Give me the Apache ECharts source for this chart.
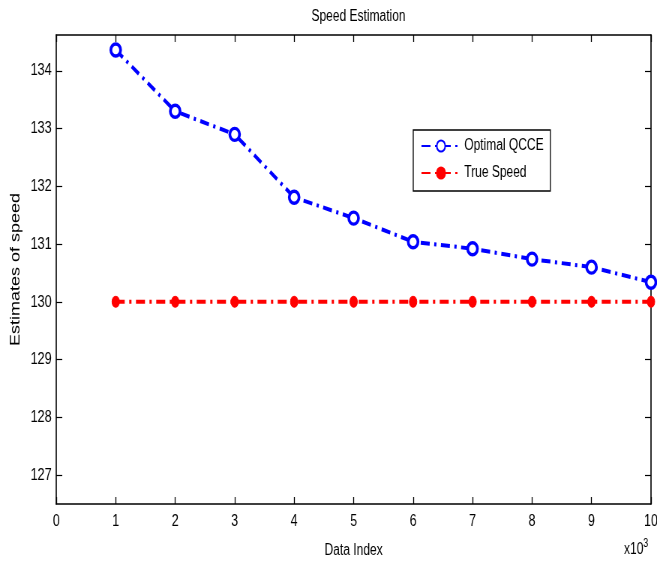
<!DOCTYPE html>
<html><head><meta charset="utf-8">
<script src="https://cdn.jsdelivr.net/npm/echarts@6/dist/echarts.min.js"></script>
<style>html,body{margin:0;padding:0;background:#fff;overflow:hidden}
#wrap{width:657px;height:562px;overflow:hidden}
#c{width:880px;height:562px;transform:scaleX(0.75);transform-origin:0 0}</style>
</head><body><div id="wrap"><div id="c"></div></div>
<script>
const xIndex = [1,2,3,4,5,6,7,8,9,10];
const optimalQCCE = [134.36,133.30,132.90,131.81,131.45,131.04,130.92,130.74,130.60,130.34];
const trueSpeed = [130,130,130,130,130,130,130,130,130,130];
const xTicks = [0,1,2,3,4,5,6,7,8,9,10];
const yTicks = [127,128,129,130,131,132,133,134];

const FONT = "'Liberation Sans',Arial,Helvetica,sans-serif";
const chart = echarts.init(document.getElementById('c'), null, {renderer:'canvas'});
const lineAx = {show:true,onZero:false,lineStyle:{color:'#000',width:1.6}};
const tickAx = {show:true,inside:true,length:8,lineStyle:{color:'#000',width:1.2}};
const tickAxX = {show:true,inside:true,length:7,lineStyle:{color:'#000',width:1.3},customValues:xTicks};
chart.setOption({
  animation:false,
  backgroundColor:'#fff',
  title:{text:'Speed Estimation',left:473,top:4,textAlign:'center',
    textStyle:{fontFamily:FONT,fontSize:16,fontWeight:'normal',color:'#000'}},
  grid:{left:75,right:12,top:35,bottom:58,containLabel:false,outerBoundsMode:'none'},
  legend:{
    orient:'vertical',left:551,top:130,
    data:['Optimal QCCE','True Speed'],
    borderColor:'#000',borderWidth:1.3,padding:[8,9,10,10],
    itemWidth:52,itemHeight:14,itemGap:11,
    textStyle:{fontFamily:FONT,fontSize:16,color:'#000'}
  },
  xAxis:[
    {type:'value',min:0,max:10,interval:1,position:'bottom',
      name:'Data Index',nameLocation:'middle',nameGap:39,
      nameTextStyle:{fontFamily:FONT,fontSize:16,color:'#000'},
      axisLine:lineAx,axisTick:tickAxX,splitLine:{show:false},
      axisLabel:{fontFamily:FONT,fontSize:16.5,color:'#000',margin:9,customValues:xTicks}},
    {type:'value',min:0,max:10,interval:1,position:'top',
      axisLine:lineAx,axisTick:tickAxX,splitLine:{show:false},axisLabel:{show:false}}
  ],
  yAxis:[
    {type:'value',min:126.5,max:134.62,position:'left',
      name:'Estimates of speed',nameLocation:'middle',nameGap:42,
      nameTextStyle:{fontFamily:FONT,fontSize:18,color:'#000'},
      axisLine:lineAx,axisTick:Object.assign({customValues:yTicks},tickAx),splitLine:{show:false},
      axisLabel:{fontFamily:FONT,fontSize:17,color:'#000',margin:6,customValues:yTicks}},
    {type:'value',min:126.5,max:134.62,position:'right',
      axisLine:lineAx,axisTick:Object.assign({customValues:yTicks},tickAx),splitLine:{show:false},
      axisLabel:{show:false}}
  ],
  graphic:[{type:'text',left:832,top:538,style:{
    text:'x10{s|3}',fontFamily:FONT,fontSize:16,fill:'#000',
    rich:{s:{fontSize:12,verticalAlign:'top',padding:[0,0,12,0],fontFamily:FONT}}}}],
  series:[
    {name:'Optimal QCCE',type:'line',data:xIndex.map((x,i)=>[x,optimalQCCE[i]]),
      color:'#0000ff',symbol:'circle',symbolSize:[13,12],
      itemStyle:{color:'#fff',borderColor:'#0000ff',borderWidth:3.5},
      lineStyle:{color:'#0000ff',width:4,type:[12,6,3,6]}},
    {name:'True Speed',type:'line',data:xIndex.map((x,i)=>[x,trueSpeed[i]]),
      color:'#ff0000',symbol:'circle',symbolSize:[10,11],
      itemStyle:{color:'#ff0000',borderColor:'#ff0000',borderWidth:1},
      lineStyle:{color:'#ff0000',width:4,type:[12,6,3,6]}}
  ]
});
</script></body></html>
